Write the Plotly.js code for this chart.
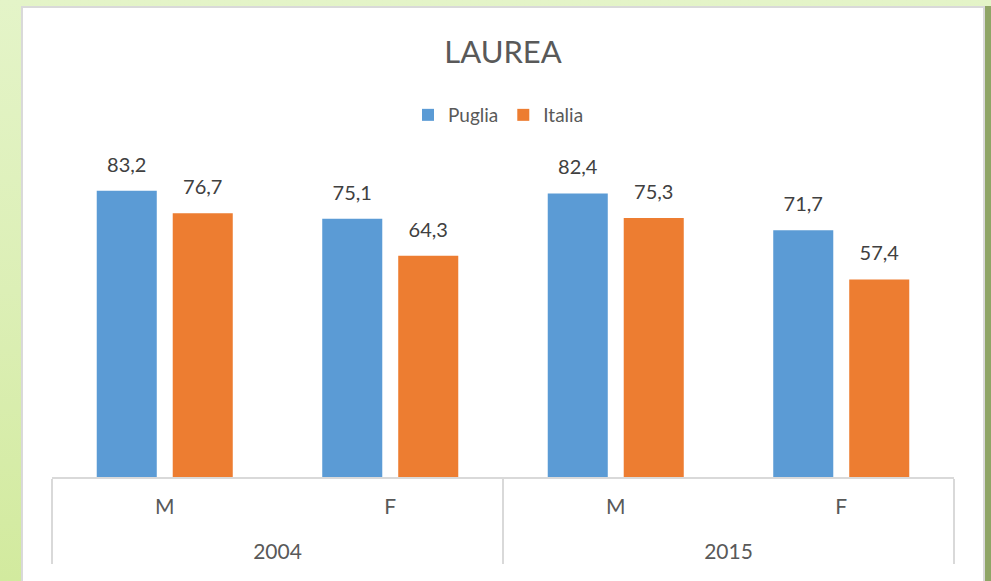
<!DOCTYPE html>
<html>
<head>
<meta charset="utf-8">
<script src="https://cdn.plot.ly/plotly-3.0.1.min.js"></script>
<style>
  html, body { margin: 0; padding: 0; width: 991px; height: 581px; overflow: hidden; }
  body { position: relative; background: linear-gradient(180deg, #e4f4c8 0%, #dcefb6 50%, #d2ea9e 100%); }
  #panel { position: absolute; left: 21px; top: 6px; width: 960px; height: 590px; background: #ffffff; border: 2px solid #d9d9d9; box-shadow: 6px 0 0 #8fa566; }
  #chart { position: absolute; left: 0; top: 0; width: 991px; height: 581px; }
</style>
</head>
<body>
<div id="panel"></div>
<div id="chart"></div>
<script>
const years = ['2004', '2004', '2015', '2015'];
const sexes = ['M', 'F', 'M', 'F'];
const puglia = [83.2, 75.1, 82.4, 71.7];
const italia = [76.7, 64.3, 75.3, 57.4];
const seriesNames = ['Puglia', 'Italia'];
const colors = ['#5b9bd5', '#ed7d31'];
const font = 'Lato, "Open Sans", sans-serif';

// outer-level labels get a leading blank line to push them lower, as in the original
const yearLabels = years.map(y => '<br>' + y);
const xCats = [yearLabels, sexes];

const barTraces = [puglia, italia].map((vals, i) => ({
  type: 'bar',
  name: seriesNames[i],
  x: xCats,
  y: vals,
  marker: { color: colors[i] },
  hoverinfo: 'none'
}));

// value labels: invisible markers at bar tops, grouped like the bars
const labelTraces = [puglia, italia].map((vals, i) => ({
  type: 'scatter',
  mode: 'markers+text',
  name: seriesNames[i] + ' labels',
  showlegend: false,
  x: xCats,
  y: vals,
  marker: { size: 21, opacity: 0, color: colors[i] },
  text: vals.map(v => v.toFixed(1).replace('.', ',')),
  textposition: 'top center',
  textfont: { family: font, size: 20, color: '#404040' },
  cliponaxis: false,
  hoverinfo: 'none'
}));

const layout = {
  width: 991, height: 581,
  margin: { l: 52, r: 37, t: 150, b: 104 },
  paper_bgcolor: 'rgba(0,0,0,0)',
  plot_bgcolor: 'rgba(0,0,0,0)',
  separators: ',.',
  barmode: 'group',
  bargap: 0.326,
  bargroupgap: 0.21,
  scattermode: 'group',
  scattergap: 0.326,
  font: { family: font, color: '#595959' },
  title: {
    text: 'LAUREA',
    font: { family: font, size: 31, color: '#595959' },
    x: 503 / 991, xref: 'container', xanchor: 'center',
    y: 1 - 52 / 581, yref: 'container', yanchor: 'middle'
  },
  showlegend: true,
  legend: {
    orientation: 'h', x: 0.495, xanchor: 'center', y: (477 - 115) / 327, yanchor: 'middle',
    font: { family: font, size: 19, color: '#595959' },
    itemwidth: 30, traceorder: 'normal', bgcolor: 'rgba(0,0,0,0)'
  },
  xaxis: {
    type: 'multicategory',
    showline: true, linecolor: '#d9d9d9', linewidth: 2,
    showdividers: true, dividercolor: '#d9d9d9', dividerwidth: 2,
    ticks: '', ticklabelstandoff: 10, showgrid: false,
    tickfont: { family: font, size: 21, color: '#595959' }
  },
  yaxis: {
    range: [0, 327 / 3.44],
    visible: false, showgrid: false, zeroline: false
  }
};

Plotly.newPlot('chart', barTraces.concat(labelTraces), layout, { staticPlot: true });
</script>
</body>
</html>
